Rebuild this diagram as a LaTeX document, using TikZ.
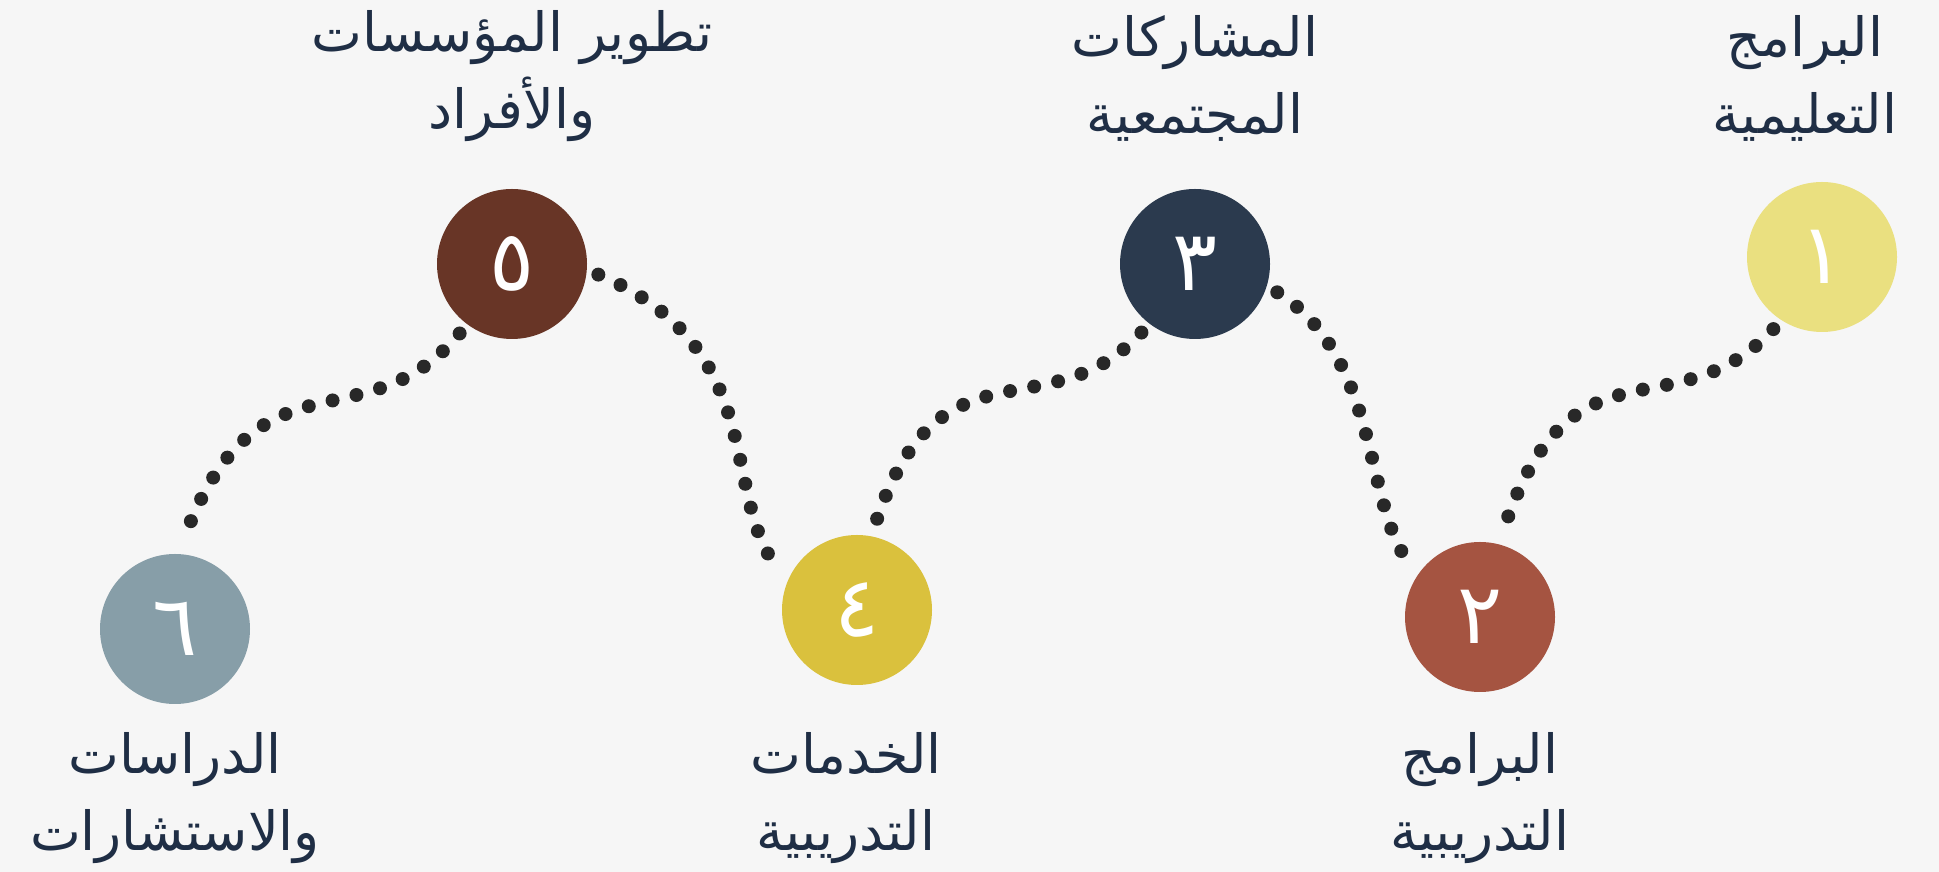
\documentclass[tikz,border=0pt]{standalone}
\usepackage{fontspec}
\newfontfamily\arabicfont[Script=Arabic]{DejaVu Sans}
\TeXXeTstate=1
\usetikzlibrary{positioning}
\definecolor{paper}{HTML}{F6F6F6}
\definecolor{ink}{HTML}{1F2E45}
\definecolor{bead}{HTML}{282828}
\definecolor{stepA}{HTML}{EAE080}
\definecolor{stepB}{HTML}{A55441}
\definecolor{stepC}{HTML}{2B3A4E}
\definecolor{stepD}{HTML}{DAC13D}
\definecolor{stepE}{HTML}{683526}
\definecolor{stepF}{HTML}{879EA8}
\newcommand{\Ar}[1]{\beginR #1\endR}

\begin{document}
\begin{tikzpicture}[x=1pt,y=1pt,
  stage/.style={circle, minimum size=150pt, inner sep=0pt, outer sep=12pt, text=white,
    font=\arabicfont\fontsize{84}{84}\selectfont},
  caption/.style={text=ink, align=center, inner sep=0pt,
    font=\arabicfont\fontsize{54}{77}\selectfont},
  trail/.style={draw=bead, line width=14pt, line cap=round, dash pattern=on 0pt off 24.5pt}]
\fill[paper] (0,0) rectangle (1939,872);
\useasboundingbox (0,0) rectangle (1939,872);

\node[stage, fill=stepA] (n1) at (1822,615) {١};
\node[stage, fill=stepB] (n2) at (1480,255) {٢};
\node[stage, fill=stepC] (n3) at (1195,608) {٣};
\node[stage, fill=stepD] (n4) at (857,262)  {٤};
\node[stage, fill=stepE] (n5) at (512,608)  {٥};
\node[stage, fill=stepF] (n6) at (175,243)  {٦};

% Captions
\node[caption, above=28pt of n1, xshift=-17pt] (t1) {\Ar{البرامج}\\\Ar{التعليمية}};
\node[caption, below=28pt of n2]               (t2) {\Ar{البرامج}\\\Ar{التدريبية}};
\node[caption, above=35pt of n3]               (t3) {\Ar{المشاركات}\\\Ar{المجتمعية}};
\node[caption, below=35pt of n4, xshift=-11pt] (t4) {\Ar{الخدمات}\\\Ar{التدريبية}};
\node[caption, above=35pt of n5]               (t5) {\Ar{تطوير المؤسسات}\\\Ar{والأفراد}};
\node[caption, below=16pt of n6]               (t6) {\Ar{الدراسات}\\\Ar{والاستشارات}};

% Trails
\draw[trail] (n1.236) .. controls +(227:146) and +(72:218) .. (n2.75);
\draw[trail] (n3.341) .. controls +(-32:123) and +(130:73) .. (n2.143);
\draw[trail] (n3.232) .. controls +(227:140) and +(72:205) .. (n4.78);
\draw[trail] (n5.353) .. controls +(-23:189) and +(130:95) .. (n4.153);
\draw[trail] (n5.233) .. controls +(230:150) and +(70:215) .. (n6.85);

\end{tikzpicture}
\end{document}
